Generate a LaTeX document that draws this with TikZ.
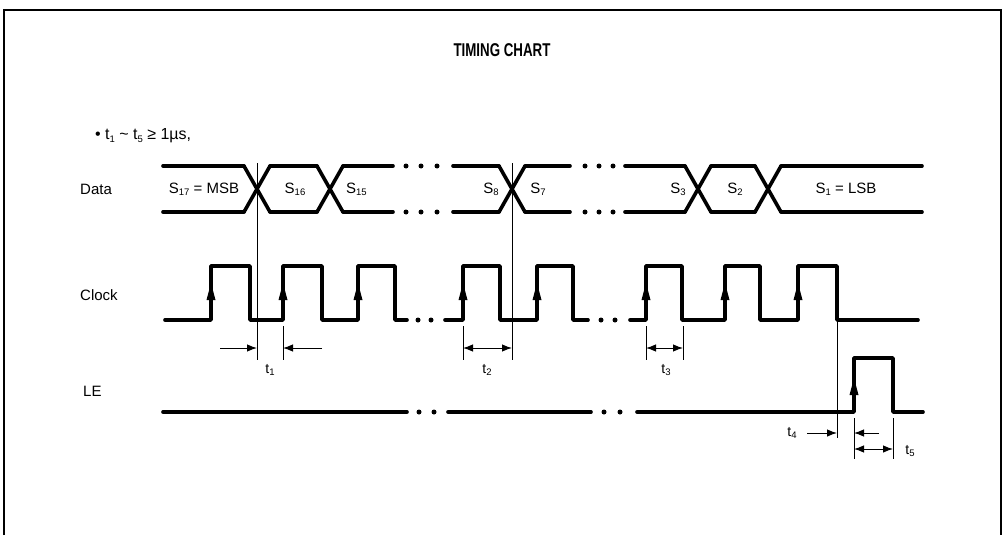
\documentclass[tikz,border=0pt]{standalone}
\usepackage{fontspec}
\setmainfont{Liberation Sans}
\usetikzlibrary{arrows.meta}
\newcommand\subs[1]{\raisebox{-0.3ex}{\fontsize{9.5}{9.5}\selectfont #1}}
\begin{document}
\begin{tikzpicture}[x=1pt,y=-1pt,
  sig/.style={line width=3.6pt, line cap=round, line join=round},
  thinline/.style={line width=1pt},
  lbl/.style={font=\fontsize{15}{15}\selectfont, inner sep=0pt},
  tlbl/.style={font=\fontsize{14}{14}\selectfont, inner sep=0pt},
  dim/.style={thinline, -{Latex[length=10pt,width=7.5pt]}},
  ddim/.style={thinline, {Latex[length=10pt,width=7.5pt]}-{Latex[length=10pt,width=7.5pt]}},
  edgearrow/.style={fill=black},
  dotmark/.style={fill=black}
]
\useasboundingbox (0,0) rectangle (1003,535);
% frame
\draw[line width=1.3pt] (4,535) -- (4,10) -- (1001,10) -- (1001,535);
% title and note
\node[inner sep=0pt, font=\bfseries\fontsize{18.5}{18.5}\selectfont] (title) at (502,50) {\scalebox{0.72}[1]{TIMING CHART}};
\node[tlbl, anchor=west, font=\fontsize{16}{16}\selectfont] (note) at (95,136) {\textbullet\ t\subs{1} \textasciitilde\ t\subs{5} ≥ 1µs,};
% row labels
\node[lbl, anchor=west] (ldata) at (80,189) {Data};
\node[lbl, anchor=west] (lclock) at (80,295) {Clock};
\node[lbl, anchor=west] (lle) at (83,391) {LE};
% ---------- Data ----------
\foreach \xc in {257,330,512,698,768}{
  \draw[sig] (\xc-13,166) -- (\xc+13,212);
  \draw[sig] (\xc-13,212) -- (\xc+13,166);
}
\foreach \ya in {166,212}{
  \draw[sig] (163,\ya) -- (244,\ya);
  \draw[sig] (270,\ya) -- (317,\ya);
  \draw[sig] (343,\ya) -- (393,\ya);
  \draw[sig] (453,\ya) -- (499,\ya);
  \draw[sig] (525,\ya) -- (570,\ya);
  \draw[sig] (625,\ya) -- (685,\ya);
  \draw[sig] (711,\ya) -- (755,\ya);
  \draw[sig] (781,\ya) -- (922,\ya);
  \foreach \xd in {406,421,437,585,599,613}{
    \fill[dotmark] (\xd,\ya) circle (2.5);
  }
}
\node[lbl] (s17) at (204,189) {S\subs{17} = MSB};
\node[lbl] (s16) at (295,189) {S\subs{16}};
\node[lbl, anchor=west] (s15) at (346,189) {S\subs{15}};
\node[lbl] (s8) at (491,189) {S\subs{8}};
\node[lbl] (s7) at (538,189) {S\subs{7}};
\node[lbl] (s3) at (678,189) {S\subs{3}};
\node[lbl] (s2) at (735,189) {S\subs{2}};
\node[lbl] (s1) at (846,189) {S\subs{1} = LSB};
% ---------- Clock ----------
\draw[sig] (165,320) -- (211,320) -- (211,266) -- (250,266) -- (250,320) -- (283,320) -- (283,266) -- (322,266) -- (322,320) -- (358,320) -- (358,266) -- (395,266) -- (395,320) -- (407,320);
\draw[sig] (445,320) -- (463,320) -- (463,266) -- (500,266) -- (500,320) -- (537,320) -- (537,266) -- (573,266) -- (573,320) -- (588,320);
\draw[sig] (630,320) -- (646,320) -- (646,266) -- (682,266) -- (682,320) -- (725,320) -- (725,266) -- (760,266) -- (760,320) -- (798,320) -- (798,266) -- (837,266) -- (837,320) -- (918,320);
\foreach \xd in {418,431,601,615}{
  \fill[dotmark] (\xd,320) circle (2.5);
}
\foreach \xr in {211,283,358,463,537,646,725,798}{
  \fill[edgearrow] (\xr,283) -- (\xr+4.5,300) -- (\xr-4.5,300) -- cycle;
}
% ---------- LE ----------
\draw[sig] (163,412) -- (407,412);
\draw[sig] (448,412) -- (591,412);
\draw[sig] (637,412) -- (854,412) -- (854,358) -- (893,358) -- (893,412) -- (923,412);
\foreach \xd in {419,434,604,620}{
  \fill[dotmark] (\xd,412) circle (2.5);
}
\fill[edgearrow] (854,378) -- (858.5,395) -- (849.5,395) -- cycle;
% ---------- timing markers ----------
\coordinate (c1top) at (257,163);
\coordinate (c1bot) at (257,360);
\coordinate (c2top) at (512,163);
\coordinate (c2bot) at (512,360);
\draw[thinline] (c1top) -- (c1bot);
\draw[thinline] (c2top) -- (c2bot);
% t1
\coordinate (t1rt) at (283,326); \coordinate (t1rb) at (283,360);
\draw[thinline] (t1rt) -- (t1rb);
\coordinate (t1a) at (220,348); \coordinate (t1ae) at (257,348);
\coordinate (t1b) at (322,348); \coordinate (t1be) at (283,348);
\draw[dim] (t1a) -- (t1ae);
\draw[dim] (t1b) -- (t1be);
\node[tlbl] (t1) at (270,370) {t\subs{1}};
% t2
\coordinate (t2lt) at (463,326); \coordinate (t2lb) at (463,360);
\draw[thinline] (t2lt) -- (t2lb);
\coordinate (t2a) at (463,348); \coordinate (t2b) at (512,348);
\draw[ddim] (t2a) -- (t2b);
\node[tlbl] (t2) at (487,370) {t\subs{2}};
% t3
\coordinate (t3lt) at (646,326); \coordinate (t3lb) at (646,360);
\coordinate (t3rt) at (683,326); \coordinate (t3rb) at (683,360);
\draw[thinline] (t3lt) -- (t3lb);
\draw[thinline] (t3rt) -- (t3rb);
\coordinate (t3a) at (646,348); \coordinate (t3b) at (683,348);
\draw[ddim] (t3a) -- (t3b);
\node[tlbl] (t3) at (666,370) {t\subs{3}};
% t4
\coordinate (t4top) at (837,320); \coordinate (t4bot) at (837,438);
\draw[thinline] (t4top) -- (t4bot);
\coordinate (t4a) at (807,433); \coordinate (t4ae) at (837,433);
\draw[dim] (t4a) -- (t4ae);
\node[tlbl] (t4) at (792,433) {t\subs{4}};
% t5
\coordinate (t5lt) at (854,418); \coordinate (t5lb) at (854,459);
\coordinate (t5rt) at (893,418); \coordinate (t5rb) at (893,459);
\draw[thinline] (t5lt) -- (t5lb);
\draw[thinline] (t5rt) -- (t5rb);
\coordinate (t5a) at (879,433); \coordinate (t5ae) at (854,433);
\draw[dim] (t5a) -- (t5ae);
\coordinate (t5b) at (854,449); \coordinate (t5be) at (893,449);
\draw[ddim] (t5b) -- (t5be);
\node[tlbl] (t5) at (910,451) {t\subs{5}};
\end{tikzpicture}
\end{document}
